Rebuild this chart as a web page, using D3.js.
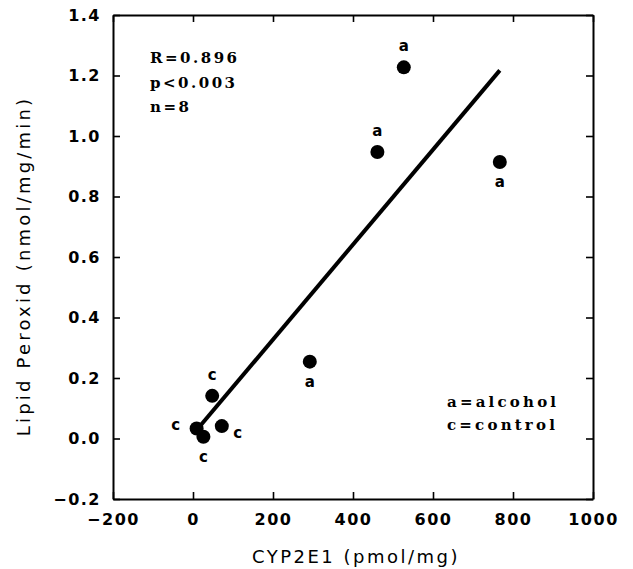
<!DOCTYPE html>
<html>
<head>
<meta charset="utf-8">
<script src="https://cdn.jsdelivr.net/npm/d3@7"></script>
<style>
body { margin: 0; background: #fff; }
</style>
</head>
<body>
<script>
// data
var cyp = [527, 461, 767, 292, 48, 72, 9, 26];
var lipid = [1.227, 0.947, 0.914, 0.254, 0.141, 0.041, 0.033, 0.006];
var group = ["a", "a", "a", "a", "c", "c", "c", "c"];
var labelSide = ["above", "above", "below", "below", "above", "rightbelow", "left", "below"];
var fitX = [15, 767];
var fitY = [0.037, 1.217];
var xTicks = [-200, 0, 200, 400, 600, 800, 1000];
var yTicks = [-0.2, 0.0, 0.2, 0.4, 0.6, 0.8, 1.0, 1.2, 1.4];
var stats = ["R=0.896", "p<0.003", "n=8"];
var legendText = ["a=alcohol", "c=control"];

var w = 633;
var h = 569;
// plot box (avoid "top", it clashes with window.top)
var pLeft = 113, pRight = 593, pTop = 15, pBottom = 499;

var svg = d3.select("body")
	.append("svg")
	.attr("width", w)
	.attr("height", h);

var x = d3.scaleLinear().domain([-200, 1000]).range([pLeft, pRight]);
var y = d3.scaleLinear().domain([-0.2, 1.4]).range([pBottom, pTop]);

var tickFont = "'DejaVu Sans', sans-serif";
var noteFont = "'DejaVu Serif', serif";

function styleAxis(g) {
	g.select(".domain").attr("stroke", "#000").attr("stroke-width", 2);
	g.selectAll(".tick line").attr("stroke", "#000").attr("stroke-width", 1.6);
	g.selectAll("text")
		.attr("font-family", tickFont)
		.attr("font-size", 16)
		.attr("font-weight", "bold")
		.attr("letter-spacing", 1.5)
		.attr("fill", "#000");
}

// bottom axis with labels
svg.append("g")
	.attr("transform", "translate(0," + pBottom + ")")
	.call(d3.axisBottom(x).tickValues(xTicks).tickSize(-7).tickSizeOuter(0).tickPadding(15)
		.tickFormat(d3.format("d")))
	.call(styleAxis);

// left axis with labels
svg.append("g")
	.attr("transform", "translate(" + pLeft + ",0)")
	.call(d3.axisLeft(y).tickValues(yTicks).tickSize(-7).tickSizeOuter(0).tickPadding(12)
		.tickFormat(d3.format(".1f")))
	.call(styleAxis);

// top and right: ticks only
svg.append("g")
	.attr("transform", "translate(0," + pTop + ")")
	.call(d3.axisTop(x).tickValues(xTicks).tickSize(-7).tickSizeOuter(0).tickFormat(""))
	.call(styleAxis);
svg.append("g")
	.attr("transform", "translate(" + pRight + ",0)")
	.call(d3.axisRight(y).tickValues(yTicks).tickSize(-7).tickSizeOuter(0).tickFormat(""))
	.call(styleAxis);

// axis titles
svg.append("text")
	.text("CYP2E1 (pmol/mg)")
	.attr("x", 356)
	.attr("y", 563)
	.attr("text-anchor", "middle")
	.attr("font-family", tickFont)
	.attr("font-size", 18)
	.attr("letter-spacing", 2.5);

svg.append("text")
	.text("Lipid Peroxid (nmol/mg/min)")
	.attr("transform", "translate(30,266) rotate(-90)")
	.attr("text-anchor", "middle")
	.attr("font-family", tickFont)
	.attr("font-size", 18)
	.attr("letter-spacing", 3.2);

// regression line
svg.append("line")
	.attr("x1", x(fitX[0]))
	.attr("y1", y(fitY[0]))
	.attr("x2", x(fitX[1]))
	.attr("y2", y(fitY[1]))
	.attr("stroke", "#000")
	.attr("stroke-width", 4);

// points
var pts = cyp.map(function(d, i) { return {x: d, y: lipid[i], g: group[i], side: labelSide[i]}; });

svg.selectAll("circle.pt")
	.data(pts)
	.enter()
	.append("circle")
	.attr("class", "pt")
	.attr("cx", function(d) { return x(d.x); })
	.attr("cy", function(d) { return y(d.y); })
	.attr("r", 7)
	.attr("fill", "#000");

// point letters
var off = {
	above: [0, -16],
	below: [0, 25],
	left: [-21, 1],
	rightbelow: [16, 12]
};
svg.selectAll("text.lbl")
	.data(pts)
	.enter()
	.append("text")
	.attr("class", "lbl")
	.text(function(d) { return d.g; })
	.attr("x", function(d) { return x(d.x) + off[d.side][0]; })
	.attr("y", function(d) { return y(d.y) + off[d.side][1]; })
	.attr("text-anchor", "middle")
	.attr("font-family", tickFont)
	.attr("font-size", 15)
	.attr("font-weight", "bold");

// stats text
svg.selectAll("text.stat")
	.data(stats)
	.enter()
	.append("text")
	.attr("class", "stat")
	.text(function(d) { return d; })
	.attr("x", 150)
	.attr("y", function(d, i) { return 63 + i * 24.5; })
	.attr("font-family", noteFont)
	.attr("font-size", 15)
	.attr("font-weight", "bold")
	.attr("letter-spacing", 2.5);

// legend text
svg.selectAll("text.leg")
	.data(legendText)
	.enter()
	.append("text")
	.attr("class", "leg")
	.text(function(d) { return d; })
	.attr("x", 447)
	.attr("y", function(d, i) { return 407 + i * 23; })
	.attr("font-family", noteFont)
	.attr("font-size", 15)
	.attr("font-weight", "bold")
	.attr("letter-spacing", 3.2);
</script>
</body>
</html>
